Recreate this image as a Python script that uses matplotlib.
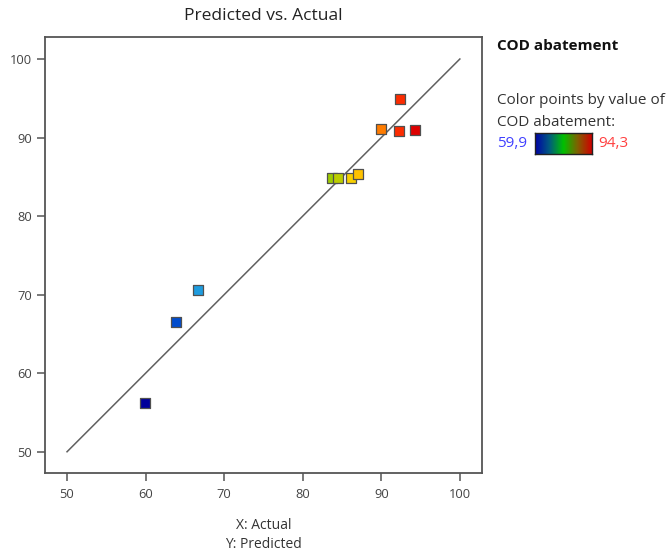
import numpy as np
import matplotlib
matplotlib.use("Agg")
import matplotlib.pyplot as plt
from matplotlib.colors import LinearSegmentedColormap

plt.rcParams['font.family'] = ['Open Sans', 'DejaVu Sans']

# Actual vs predicted COD abatement (%)
actual = [59.9, 63.9, 66.7, 83.7, 84.5, 86.2, 87.0, 90.0, 92.4, 92.3, 94.3]
predicted = [56.2, 66.5, 70.6, 84.8, 84.8, 84.8, 85.3, 91.1, 94.9, 90.8, 90.9]
ticks = [50, 60, 70, 80, 90, 100]
vmin, vmax = 59.9, 94.3

# point colours: blue -> cyan -> green -> yellow -> red
point_cmap = LinearSegmentedColormap.from_list("pts", [
    (0.0, "#00009a"), (0.12, "#0050d0"), (0.2, "#20a0e0"), (0.45, "#20c060"),
    (0.69, "#99cc00"), (0.77, "#ffd000"), (0.875, "#ff8000"),
    (0.94, "#ff3000"), (1.0, "#dd0000")])
# legend bar: dark blue -> green -> red
bar_cmap = LinearSegmentedColormap.from_list("bar", [
    (0.0, "#0000a8"), (0.25, "#005a80"), (0.5, "#00c000"),
    (0.75, "#806000"), (1.0, "#d00000")])

fig = plt.figure(figsize=(6.7, 5.53), dpi=100)
ax = fig.add_axes([0.0672, 0.1447, 0.652, 0.7884])

ax.plot([50, 100], [50, 100], color="#606060", lw=1.1, zorder=1)
ax.scatter(actual, predicted, c=actual, cmap=point_cmap, vmin=vmin, vmax=vmax,
           marker="s", s=52, edgecolors="#505050", linewidths=0.9, zorder=3)

ax.set_xlim(47.2, 102.8)
ax.set_ylim(47.3, 102.8)
ax.set_xticks(ticks)
ax.set_yticks(ticks)
for s in ax.spines.values():
    s.set_color("#555555")
    s.set_linewidth(1.3)
ax.tick_params(direction="out", length=6, width=1.1, color="#555555",
               labelcolor="#444444", labelsize=9.3)
ax.tick_params(axis="x", pad=5)

ax.set_title("Predicted vs. Actual", fontsize=12.5, color="#222222", pad=12)
ax.set_xlabel("X: Actual\nY: Predicted", fontsize=10, color="#333333",
              labelpad=12, linespacing=1.4)

# colour legend on the right
fig.text(0.742, 0.917, "COD abatement", fontsize=11, fontweight="bold",
         color="#111111", va="center")
fig.text(0.742, 0.819, "Color points by value of", fontsize=11,
         color="#333333", va="center")
fig.text(0.742, 0.779, "COD abatement:", fontsize=11,
         color="#333333", va="center")
fig.text(0.742, 0.740, "59,9", fontsize=11, color="#4040ff", va="center")
fig.text(0.8925, 0.740, "94,3", fontsize=11, color="#ff4040", va="center")

cax = fig.add_axes([0.7985, 0.7215, 0.085, 0.038])
cax.imshow(np.linspace(0, 1, 256)[None, :], aspect="auto", cmap=bar_cmap)
cax.set_xticks([])
cax.set_yticks([])
for s in cax.spines.values():
    s.set_color("#222222")
    s.set_linewidth(1)

fig.savefig("out.png", dpi=100)
